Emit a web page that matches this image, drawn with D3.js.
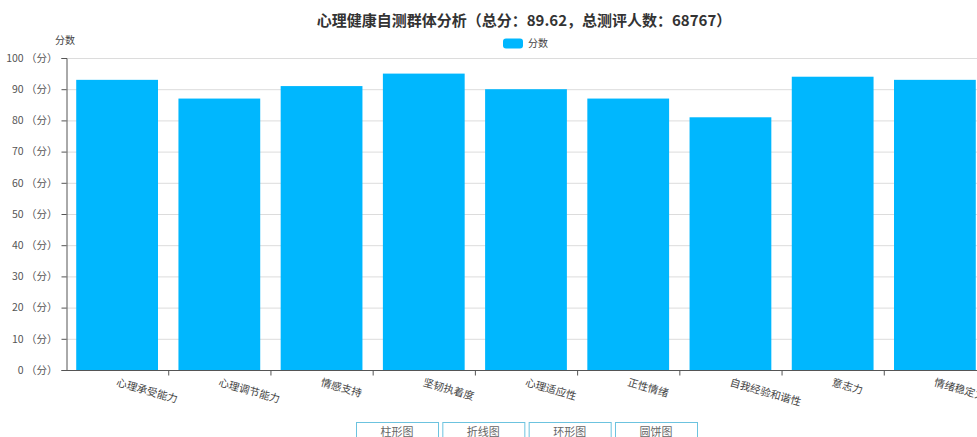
<!DOCTYPE html>
<html><head><meta charset="utf-8">
<script src="https://cdn.jsdelivr.net/npm/d3@7/dist/d3.min.js"></script>
<style>
html,body{margin:0;padding:0;background:#fff;overflow:hidden;}
svg{display:block;font-family:"Noto Sans CJK SC","Noto Sans",sans-serif;}
</style></head>
<body>
<svg id="chart" width="977" height="437"></svg>
<script>
const titleText = "心理健康自测群体分析（总分：89.62，总测评人数：68767）";
const seriesName = "分数";
const categories = ["心理承受能力","心理调节能力","情感支持","坚韧执着度","心理适应性","正性情绪","自我经验和谐性","意志力","情绪稳定力"];
const values = [93, 87, 91, 95, 90, 87, 81, 94, 93];
const yTicks = [0,10,20,30,40,50,60,70,80,90,100];
const yTickSuffix = "（分）";
const buttons = ["柱形图","折线图","环形图","圆饼图"];

const svg = d3.select("#chart");
const mLeft = 66, mTop = 58, mBottom = 370, mRight = 986;
const barColor = "#00b7fe";

const x = d3.scaleBand().domain(categories).range([mLeft, mRight]).padding(0);
const y = d3.scaleLinear().domain([0, 100]).range([mBottom, mTop]);

// grid
svg.append("g").selectAll("line").data(yTicks.filter(d => d > 0)).join("line")
  .attr("x1", mLeft).attr("x2", 977)
  .attr("y1", d => y(d) + 0.5).attr("y2", d => y(d) + 0.5)
  .attr("stroke", "#dcdcdc").attr("stroke-width", 1);

// bars
const inset = x.bandwidth() * 0.1;
svg.append("g").selectAll("rect").data(values).join("rect")
  .attr("x", (d, i) => x(categories[i]) + inset)
  .attr("width", x.bandwidth() - 2 * inset)
  .attr("y", d => y(d))
  .attr("height", d => y(0) - y(d))
  .attr("fill", barColor);

// y axis
const yAxis = d3.axisLeft(y).tickValues(yTicks).tickSize(5).tickPadding(4)
  .tickFormat(d => d + " " + yTickSuffix);
const gy = svg.append("g").attr("transform", `translate(${mLeft + 0.5},0)`).call(yAxis);
gy.select(".domain").attr("stroke", "#555");
gy.selectAll(".tick line").attr("stroke", "#555");
gy.selectAll(".tick text").attr("fill", "#555").attr("font-size", 10.5)
  .attr("font-family", '"Noto Sans CJK SC",sans-serif');

// x axis
const gx = svg.append("g").attr("transform", `translate(0,${mBottom + 0.5})`);
gx.append("line").attr("x1", mLeft).attr("x2", 977).attr("stroke", "#555");
gx.selectAll("line.tk").data(categories.slice(1)).join("line").attr("class", "tk")
  .attr("x1", d => x(d) + 0.5).attr("x2", d => x(d) + 0.5)
  .attr("y1", 0).attr("y2", 5).attr("stroke", "#555");
gx.selectAll("text").data(categories).join("text")
  .attr("transform", d => `translate(${x(d) + x.bandwidth() / 2 + 1},7) rotate(16)`)
  .attr("dy", "0.8em")
  .attr("text-anchor", "start")
  .attr("font-size", 10.5).attr("fill", "#444")
  .text(d => d);

// y axis name
svg.append("text").attr("x", 65).attr("y", 44).attr("text-anchor", "middle")
  .attr("font-size", 10).attr("fill", "#444").text(seriesName);

// title
svg.append("text").attr("x", 524).attr("y", 26).attr("text-anchor", "middle")
  .attr("font-size", 15).attr("font-weight", "bold").attr("fill", "#333").text(titleText);

// legend
svg.append("rect").attr("x", 503).attr("y", 38.5).attr("width", 20).attr("height", 10)
  .attr("rx", 3).attr("fill", barColor);
svg.append("text").attr("x", 528).attr("y", 47).attr("font-size", 10)
  .attr("fill", "#444").text(seriesName);

// buttons
const bx = d3.scaleBand().domain(buttons).range([356, 697]).paddingInner(0.05).paddingOuter(0);
const gb = svg.append("g").selectAll("g").data(buttons).join("g")
  .attr("transform", d => `translate(${bx(d)},422.5)`);
gb.append("rect").attr("x", 0.5).attr("width", bx.bandwidth()).attr("height", 20)
  .attr("fill", "#fff").attr("stroke", "#6cc3df");
gb.append("text").attr("x", bx.bandwidth() / 2).attr("y", 13.5).attr("text-anchor", "middle")
  .attr("font-size", 11).attr("fill", "#666").text(d => d);
</script>
</body></html>
